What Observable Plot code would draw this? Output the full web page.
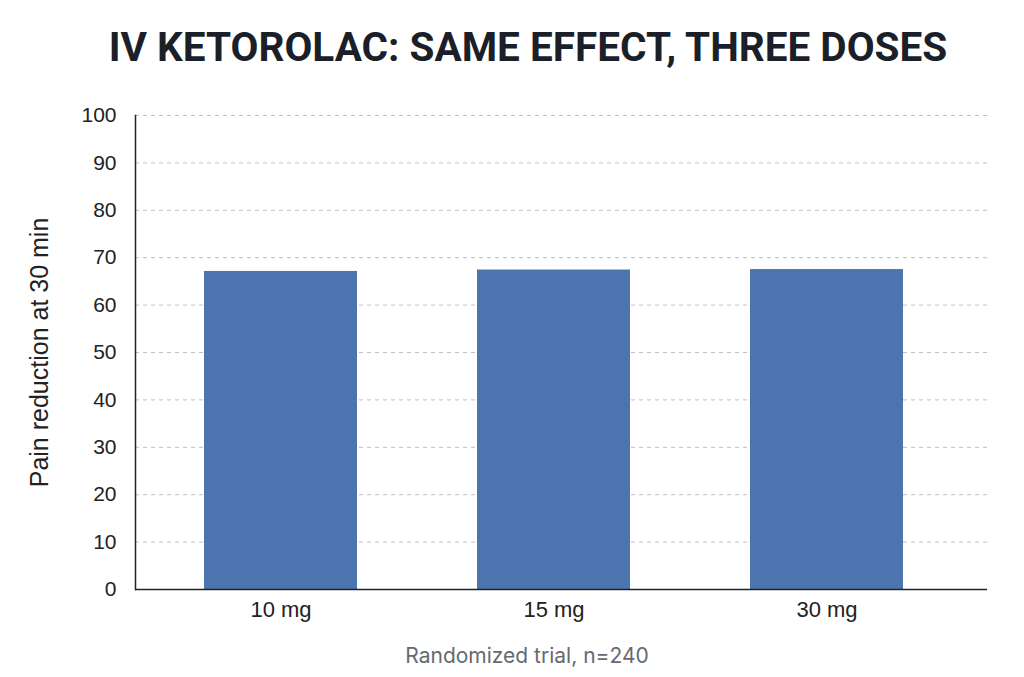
<!DOCTYPE html>
<html>
<head>
<meta charset="utf-8">
<script src="https://cdn.jsdelivr.net/npm/d3@7"></script>
<script src="https://cdn.jsdelivr.net/npm/@observablehq/plot@0.6"></script>
<style>
  html, body { margin: 0; padding: 0; background: #ffffff; }
  body { width: 1024px; height: 677px; overflow: hidden; font-family: "Liberation Sans", Arial, sans-serif; }
  #title { height: 90px; line-height: 94px; text-align: center; padding-left: 32px; font-family: Roboto, sans-serif; font-weight: 700; font-size: 40.5px; color: #1b1f29; }
  #caption { text-align: center; padding-left: 30px; font-family: Inter, sans-serif; font-size: 21px; color: #666a70; margin-top: 13px; line-height: 26px; }
  #chart { height: 540px; }
</style>
</head>
<body>
<div id="title">IV KETOROLAC: SAME EFFECT, THREE DOSES</div>
<div id="chart"></div>
<div id="caption">Randomized trial, n=240</div>
<script>
const doses = ["10 mg", "15 mg", "30 mg"];
const reduction = [67.1, 67.4, 67.5];
const yTicks = [0, 10, 20, 30, 40, 50, 60, 70, 80, 90, 100];
const gridTicks = [10, 20, 30, 40, 50, 60, 70, 80, 90, 100];
const yLabel = "Pain reduction at 30 min";

const data = doses.map((d, i) => ({dose: d, value: reduction[i]}));

const chart = Plot.plot({
  width: 1024,
  height: 540,
  marginTop: 25,
  marginBottom: 41,
  marginLeft: 135,
  marginRight: 37,
  style: {fontFamily: "Liberation Sans, Arial, sans-serif", fontSize: "21px", color: "#222"},
  x: {domain: doses, paddingInner: 0.44, paddingOuter: 0.28, align: 0.45},
  y: {domain: [0, 100]},
  marks: [
    Plot.gridY(gridTicks, {stroke: "#bfbfbf", strokeOpacity: 1, strokeDasharray: "4,4", strokeWidth: 1}),
    Plot.barY(data, {x: "dose", y: "value", fill: "#4c75b0"}),
    Plot.axisY(yTicks, {tickSize: 0, tickPadding: 19, label: null, fontSize: 21, fill: "#222"}),
    Plot.axisY({ticks: [], label: yLabel, labelAnchor: "center", labelArrow: "none", labelOffset: 105, fontSize: 25, fill: "#222"}),
    Plot.axisX({tickSize: 0, tickPadding: 12, label: null, fontSize: 22, fill: "#222"}),
    Plot.ruleY([0], {stroke: "#222", strokeWidth: 1.5}),
    Plot.frame({anchor: "left", stroke: "#222", strokeWidth: 1.5})
  ]
});
document.getElementById("chart").appendChild(chart);
</script>
</body>
</html>
